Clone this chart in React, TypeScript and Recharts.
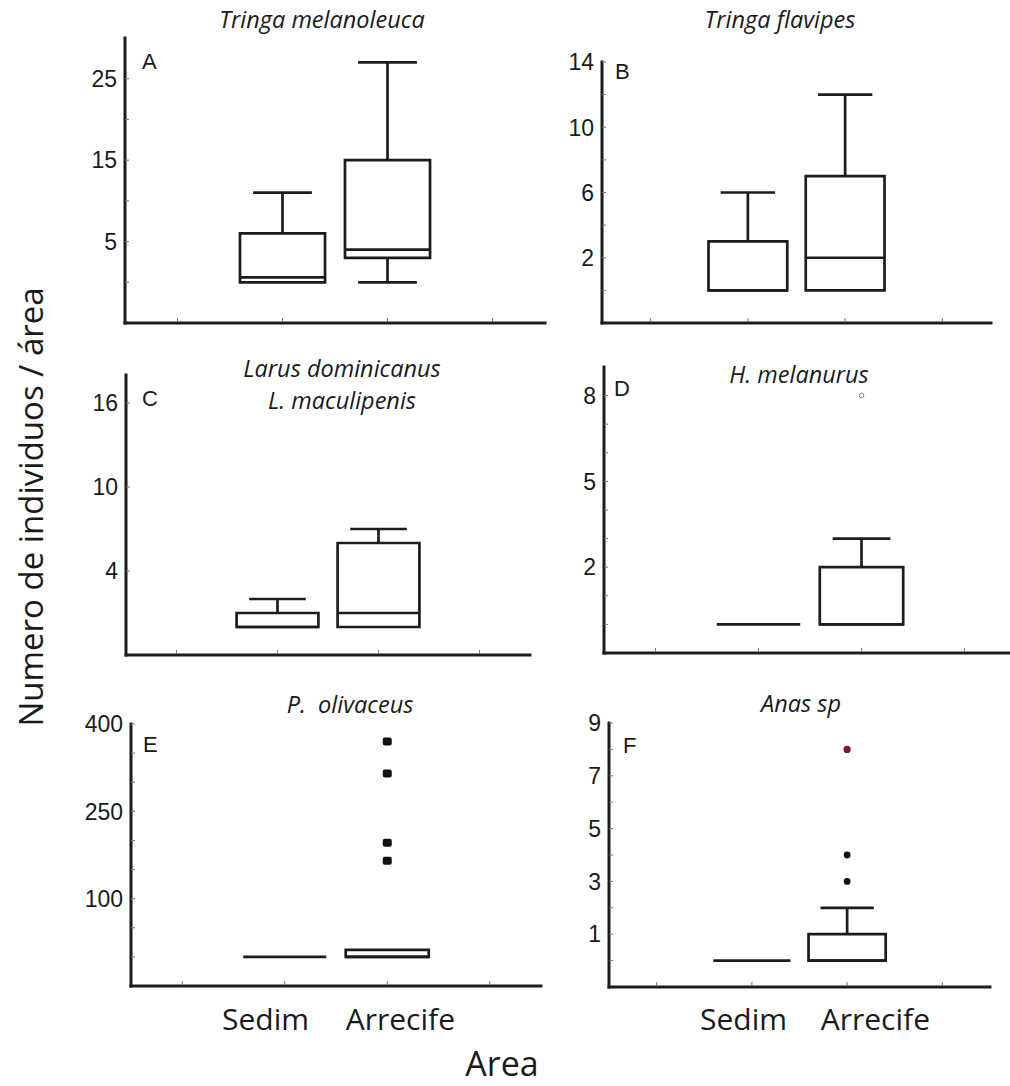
import React from "react";
import {
  ScatterChart,
  XAxis,
  YAxis,
  ReferenceArea,
  ReferenceLine,
  Scatter,
} from "recharts";

// ---------- data ----------
const categories = ["Sedim", "Arrecife"];
const categoryX = [2, 3];
const xTicks = [1, 2, 3, 4];
const xDomain = [0.5, 4.5];

// A - Tringa melanoleuca
const aLow = [0, 0];
const aQ1 = [0, 3];
const aMedian = [0.6, 4];
const aQ3 = [6, 15];
const aHigh = [11, 27];
const aOutliers: number[][] = [[], []];
const aDomain = [-5, 30];
const aTicks = [0, 5, 10, 15, 20, 25];
const aLabels = [5, 15, 25];

// B - Tringa flavipes
const bLow = [0, 0];
const bQ1 = [0, 0];
const bMedian = [0, 2];
const bQ3 = [3, 7];
const bHigh = [6, 12];
const bOutliers: number[][] = [[], []];
const bDomain = [-2, 14];
const bTicks = [0, 2, 4, 6, 8, 10, 12, 14];
const bLabels = [2, 6, 10, 14];

// C - Larus dominicanus / L. maculipenis
const cLow = [0, 0];
const cQ1 = [0, 0];
const cMedian = [0, 1];
const cQ3 = [1, 6];
const cHigh = [2, 7];
const cOutliers: number[][] = [[], []];
const cDomain = [-2, 18];
const cTicks = [4, 10, 16];
const cLabels = [4, 10, 16];

// D - H. melanurus
const dLow = [0, 0];
const dQ1 = [0, 0];
const dMedian = [0, 0];
const dQ3 = [0, 2];
const dHigh = [0, 3];
const dOutliers: number[][] = [[], [8]];
const dDomain = [-1, 9];
const dTicks = [0, 1, 2, 3, 4, 5, 6, 7, 8];
const dLabels = [2, 5, 8];

// E - P. olivaceus
const eLow = [0, 0];
const eQ1 = [0, 0];
const eMedian = [0, 0];
const eQ3 = [0, 12];
const eHigh = [0, 12];
const eOutliers: number[][] = [[], [370, 315, 196, 165]];
const eDomain = [-50, 400];
const eTicks = [0, 50, 100, 150, 200, 250, 300, 350, 400];
const eLabels = [100, 250, 400];

// F - Anas sp
const fLow = [0, 0];
const fQ1 = [0, 0];
const fMedian = [0, 0];
const fQ3 = [0, 1];
const fHigh = [0, 2];
const fOutliers: number[][] = [[], [3, 4]];
const fExtreme: number[][] = [[], [8]];
const fDomain = [-1, 9];
const fTicks = [0, 1, 2, 3, 4, 5, 6, 7, 8, 9];
const fLabels = [1, 3, 5, 7, 9];

const titles = [
  ["Tringa melanoleuca"],
  ["Tringa flavipes"],
  ["Larus dominicanus", "L. maculipenis"],
  ["H. melanurus"],
  ["P.  olivaceus"],
  ["Anas sp"],
];
const panelLetters = ["A", "B", "C", "D", "E", "F"];
const yAxisTitle = "Numero de individuos / área";
const xAxisTitle = "Area";

// ---------- styling / layout ----------
const INK = "#1c1c1c";
const BOX_HALF = 0.405;
const CAP_HALF = 0.28;
const MT = 12;
const XH = 12;
const YW = 70;
const MR = 10;

type Stats = {
  low: number[];
  q1: number[];
  med: number[];
  q3: number[];
  high: number[];
};

const panels = [
  {
    stats: { low: aLow, q1: aQ1, med: aMedian, q3: aQ3, high: aHigh },
    outliers: aOutliers, extreme: null as number[][] | null, outStyle: "none",
    domain: aDomain, ticks: aTicks, labels: aLabels,
    box: { L: 125, R: 545, T: 38, B: 323 },
    letter: { dx: 17, dy: 31 },
    title: { x: 322, y: 28 },
  },
  {
    stats: { low: bLow, q1: bQ1, med: bMedian, q3: bQ3, high: bHigh },
    outliers: bOutliers, extreme: null, outStyle: "none",
    domain: bDomain, ticks: bTicks, labels: bLabels,
    box: { L: 602, R: 991, T: 62, B: 323 },
    letter: { dx: 13, dy: 17 },
    title: { x: 780, y: 28 },
  },
  {
    stats: { low: cLow, q1: cQ1, med: cMedian, q3: cQ3, high: cHigh },
    outliers: cOutliers, extreme: null, outStyle: "none",
    domain: cDomain, ticks: cTicks, labels: cLabels,
    box: { L: 126, R: 530, T: 375, B: 655 },
    letter: { dx: 16, dy: 31 },
    title: { x: 342, y: 377 },
  },
  {
    stats: { low: dLow, q1: dQ1, med: dMedian, q3: dQ3, high: dHigh },
    outliers: dOutliers, extreme: null, outStyle: "hollow",
    domain: dDomain, ticks: dTicks, labels: dLabels,
    box: { L: 604, R: 1016, T: 367, B: 653 },
    letter: { dx: 10, dy: 29 },
    title: { x: 799, y: 383 },
  },
  {
    stats: { low: eLow, q1: eQ1, med: eMedian, q3: eQ3, high: eHigh },
    outliers: eOutliers, extreme: null, outStyle: "square",
    domain: eDomain, ticks: eTicks, labels: eLabels,
    box: { L: 131, R: 541, T: 724, B: 986 },
    letter: { dx: 12, dy: 28 },
    title: { x: 350, y: 713 },
  },
  {
    stats: { low: fLow, q1: fQ1, med: fMedian, q3: fQ3, high: fHigh },
    outliers: fOutliers, extreme: fExtreme, outStyle: "dot",
    domain: fDomain, ticks: fTicks, labels: fLabels,
    box: { L: 609, R: 990, T: 723, B: 987 },
    letter: { dx: 14, dy: 30 },
    title: { x: 801, y: 712 },
  },
];

const lineProps = { stroke: INK, strokeWidth: 2.7, isFront: true } as any;

function boxElements(stats: Stats) {
  const els: React.ReactNode[] = [];
  categoryX.forEach((cx, i) => {
    const lo = stats.low[i];
    const q1 = stats.q1[i];
    const md = stats.med[i];
    const q3 = stats.q3[i];
    const hi = stats.high[i];
    if (hi > q3) {
      els.push(
        <ReferenceLine key={`uw${i}`} segment={[{ x: cx, y: q3 }, { x: cx, y: hi }]} {...lineProps} />,
        <ReferenceLine key={`uc${i}`} segment={[{ x: cx - CAP_HALF, y: hi }, { x: cx + CAP_HALF, y: hi }]} {...lineProps} />
      );
    }
    if (lo < q1) {
      els.push(
        <ReferenceLine key={`lw${i}`} segment={[{ x: cx, y: lo }, { x: cx, y: q1 }]} {...lineProps} />,
        <ReferenceLine key={`lc${i}`} segment={[{ x: cx - CAP_HALF, y: lo }, { x: cx + CAP_HALF, y: lo }]} {...lineProps} />
      );
    }
    if (q3 > q1) {
      els.push(
        <ReferenceArea
          key={`bx${i}`}
          x1={cx - BOX_HALF}
          x2={cx + BOX_HALF}
          y1={q1}
          y2={q3}
          fill="#ffffff"
          fillOpacity={1}
          stroke={INK}
          strokeWidth={2.7}
          isFront
        />
      );
    }
    els.push(
      <ReferenceLine key={`md${i}`} segment={[{ x: cx - BOX_HALF, y: md }, { x: cx + BOX_HALF, y: md }]} {...lineProps} />
    );
  });
  return els;
}

function outlierPoints(list: number[][]) {
  const pts: { x: number; y: number }[] = [];
  list.forEach((vals, i) => vals.forEach((v) => pts.push({ x: categoryX[i], y: v })));
  return pts;
}

const shapes: Record<string, (p: any) => React.ReactElement> = {
  none: () => <g />,
  hollow: (p) => <circle cx={p.cx} cy={p.cy} r={2.3} fill="#fff" stroke="#8a8a8a" strokeWidth={1} />,
  square: (p) => <rect x={p.cx - 4.5} y={p.cy - 4} width={9} height={8} rx={2} fill="#111" />,
  dot: (p) => <circle cx={p.cx} cy={p.cy} r={3.4} fill="#111" />,
  red: (p) => <circle cx={p.cx} cy={p.cy} r={3.6} fill="#7a1c22" />,
};

function Panel({ cfg }: { cfg: (typeof panels)[number] }) {
  const { L, R, T, B } = cfg.box;
  const width = YW + (R - L) + MR;
  const height = MT + (B - T) + XH;
  const axisX = YW;
  const axisY = MT + (B - T);

  const YTick = (props: any) => {
    const { y, payload } = props;
    const v = payload.value;
    return (
      <g>
        <line x1={axisX} x2={axisX + 4} y1={y} y2={y} stroke="#777" strokeWidth={1} />
        {cfg.labels.includes(v) ? (
          <text
            x={axisX - 8}
            y={y}
            dy="0.36em"
            textAnchor="end"
            fontFamily="'Liberation Sans', Arial, sans-serif"
            fontSize={23}
            fill="#1a1a1a"
          >
            {v}
          </text>
        ) : null}
      </g>
    );
  };
  const XTick = (props: any) => {
    const { x } = props;
    return <line x1={x} x2={x} y1={axisY - 1} y2={axisY - 5} stroke="#777" strokeWidth={1} />;
  };

  return (
    <div style={{ position: "absolute", left: L - YW, top: T - MT }}>
      <ScatterChart width={width} height={height} margin={{ top: MT, right: MR, bottom: 0, left: 0 }}>
        <XAxis
          type="number"
          dataKey="x"
          domain={xDomain}
          ticks={xTicks}
          interval={0}
          allowDataOverflow
          height={XH}
          tickSize={0}
          tickMargin={0}
          tickLine={false}
          tick={XTick}
          axisLine={{ stroke: INK, strokeWidth: 3, strokeLinecap: "square" }}
        />
        <YAxis
          type="number"
          dataKey="y"
          domain={cfg.domain}
          ticks={cfg.ticks}
          interval={0}
          allowDataOverflow
          width={YW}
          tickSize={0}
          tickMargin={8}
          tickLine={false}
          tick={YTick}
          axisLine={{ stroke: INK, strokeWidth: 3, strokeLinecap: "square" }}
        />
        {boxElements(cfg.stats)}
        <Scatter
          data={outlierPoints(cfg.outliers)}
          shape={shapes[cfg.outStyle]}
          isAnimationActive={false}
        />
        {cfg.extreme ? (
          <Scatter data={outlierPoints(cfg.extreme)} shape={shapes.red} isAnimationActive={false} />
        ) : null}
      </ScatterChart>
    </div>
  );
}

export default function App() {
  return (
    <div
      style={{
        position: "absolute",
        left: 0,
        top: 0,
        width: 1010,
        height: 1086,
        overflow: "hidden",
        background: "#fff",
      }}
    >
      {panels.map((p, i) => (
        <Panel key={i} cfg={p} />
      ))}
      <svg
        width={1010}
        height={1086}
        style={{ position: "absolute", left: 0, top: 0, pointerEvents: "none" }}
      >
        {panels.map((p, i) => (
          <g key={i}>
            {titles[i].map((t, j) => (
              <text
                key={j}
                x={p.title.x}
                y={p.title.y + j * 32}
                textAnchor="middle"
                fontFamily="'Open Sans', sans-serif"
                fontStyle="italic"
                fontSize={23.5}
                fill="#1a1a1a"
                style={{ whiteSpace: "pre" }}
              >
                {t}
              </text>
            ))}
            <text
              x={p.box.L + p.letter.dx}
              y={p.box.T + p.letter.dy}
              fontFamily="'Liberation Sans', Arial, sans-serif"
              fontSize={22}
              fill="#1a1a1a"
            >
              {panelLetters[i]}
            </text>
          </g>
        ))}
        <text
          transform="translate(43,507) rotate(-90)"
          textAnchor="middle"
          fontFamily="'Open Sans', sans-serif"
          fontSize={33}
          fill="#1a1a1a"
        >
          {yAxisTitle}
        </text>
        {[0, 1].map((col) => (
          <g key={col}>
            <text
              x={col === 0 ? 222 : 700}
              y={1030}
              fontFamily="'Open Sans', sans-serif"
              fontSize={30}
              fill="#1a1a1a"
            >
              {categories[0]}
            </text>
            <text
              x={col === 0 ? 455 : 930}
              y={1030}
              textAnchor="end"
              fontFamily="'Open Sans', sans-serif"
              fontSize={30}
              fill="#1a1a1a"
            >
              {categories[1]}
            </text>
          </g>
        ))}
        <text
          x={502}
          y={1076}
          textAnchor="middle"
          fontFamily="'Open Sans', sans-serif"
          fontSize={34}
          fill="#1a1a1a"
        >
          {xAxisTitle}
        </text>
      </svg>
    </div>
  );
}
